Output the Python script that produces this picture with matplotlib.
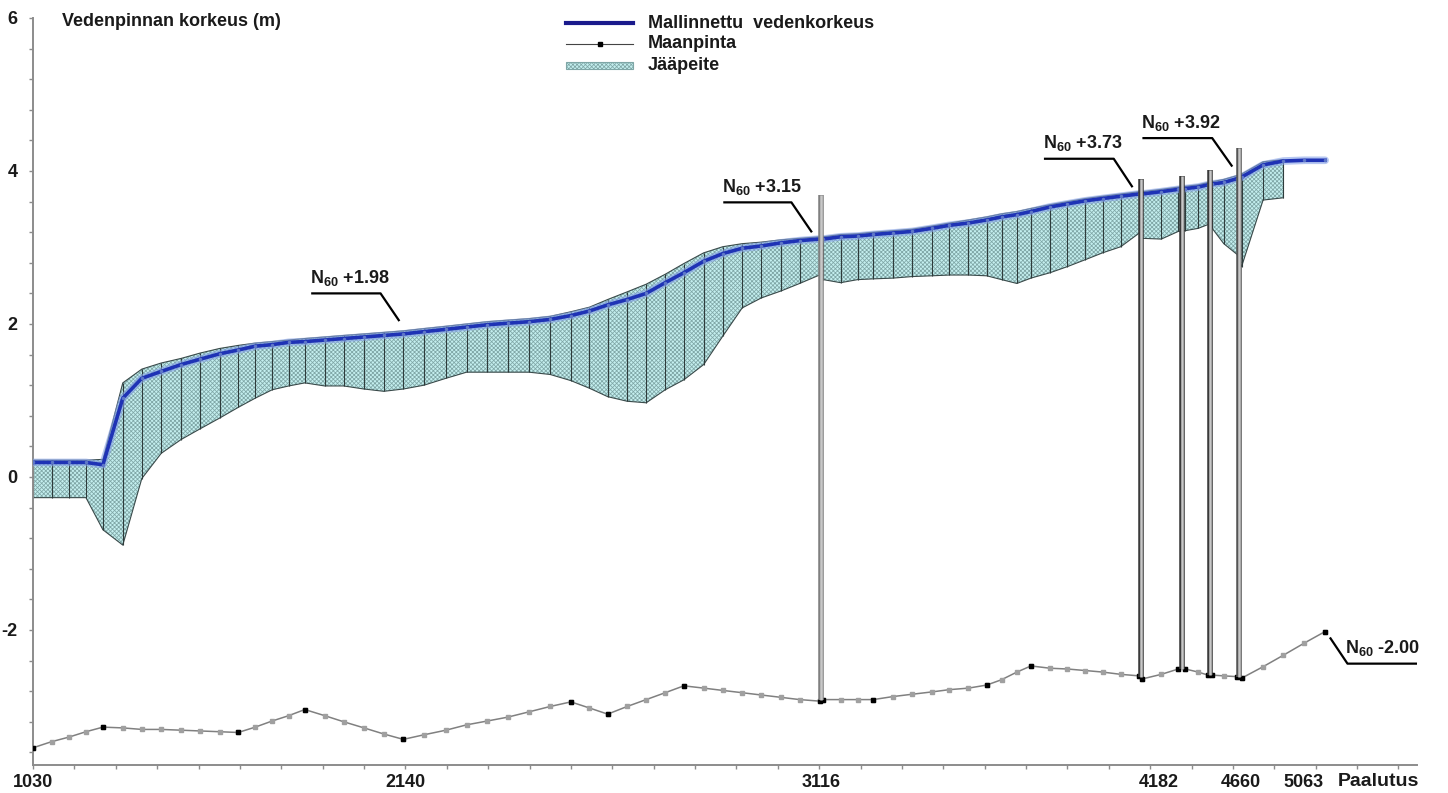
import numpy as np
import matplotlib
matplotlib.use("Agg")
import matplotlib.pyplot as plt
from matplotlib.lines import Line2D
from matplotlib.patches import Rectangle
from matplotlib.ticker import MultipleLocator, FixedLocator

plt.rcParams['font.family'] = ['Liberation Sans', 'DejaVu Sans']
plt.rcParams['font.weight'] = 'bold'
plt.rcParams['mathtext.fontset'] = 'custom'
plt.rcParams['mathtext.rm'] = 'Liberation Sans:bold'
plt.rcParams['mathtext.bf'] = 'Liberation Sans:bold'
plt.rcParams['axes.unicode_minus'] = False
plt.rcParams['hatch.linewidth'] = 0.55

# poikkileikkausten sijainnit (akselin jakoväleinä, 0 = paalu 1030)
x = np.array([0.00, 0.45, 0.87, 1.28, 1.69, 2.17, 2.63, 3.10, 3.58, 4.04,
              4.51, 4.96, 5.37, 5.78, 6.18, 6.57, 7.05, 7.51, 8.00, 8.48,
              8.95, 9.45, 9.98, 10.48, 10.98, 11.47, 11.99, 12.50, 13.00, 13.45,
              13.89, 14.36, 14.82, 15.28, 15.73, 16.21, 16.67, 17.14, 17.60, 18.07,
              18.53, 19.01, 19.10, 19.52, 19.93, 20.31, 20.79, 21.25, 21.72, 22.15,
              22.61, 23.05, 23.41, 23.78, 24.12, 24.58, 25.00, 25.43, 25.85, 26.29,
              26.74, 26.81, 27.27, 27.68, 27.85, 28.16, 28.40, 28.50, 28.78, 29.10,
              29.21, 29.73, 30.22, 30.73, 31.23])

# maanpinta (m)
ground = np.array([-3.54, -3.46, -3.40, -3.33, -3.27, -3.28, -3.30, -3.30, -3.31, -3.32,
                   -3.33, -3.34, -3.27, -3.19, -3.12, -3.04, -3.12, -3.20, -3.28, -3.36,
                   -3.43, -3.37, -3.31, -3.24, -3.19, -3.14, -3.07, -3.00, -2.94, -3.02,
                   -3.10, -3.00, -2.91, -2.82, -2.73, -2.76, -2.79, -2.82, -2.85, -2.88,
                   -2.91, -2.93, -2.91, -2.91, -2.91, -2.91, -2.87, -2.84, -2.81, -2.78,
                   -2.76, -2.72, -2.65, -2.55, -2.47, -2.50, -2.51, -2.53, -2.55, -2.58,
                   -2.60, -2.64, -2.58, -2.51, -2.51, -2.55, -2.59, -2.59, -2.60, -2.61,
                   -2.63, -2.48, -2.33, -2.17, -2.02])
measured = [0, 4, 11, 15, 20, 28, 30, 34, 41, 42, 45, 51, 54, 60, 61, 63, 64, 66, 67, 69, 70, 74]

# mallinnettu vedenkorkeus (m)
water = np.array([0.19, 0.19, 0.19, 0.19, 0.16, 1.03, 1.29, 1.38, 1.47, 1.54,
                  1.61, 1.66, 1.71, 1.73, 1.76, 1.77, 1.79, 1.81, 1.83, 1.85,
                  1.87, 1.90, 1.93, 1.96, 1.99, 2.01, 2.03, 2.06, 2.11, 2.17,
                  2.25, 2.32, 2.40, 2.54, 2.67, 2.82, 2.92, 2.99, 3.02, 3.06,
                  3.09, 3.11, 3.11, 3.14, 3.15, 3.17, 3.19, 3.21, 3.25, 3.29,
                  3.32, 3.36, 3.40, 3.43, 3.47, 3.53, 3.57, 3.61, 3.64, 3.67,
                  3.70, 3.70, 3.73, 3.76, 3.77, 3.79, 3.82, 3.83, 3.85, 3.90,
                  3.92, 4.08, 4.13, 4.14, 4.14])

# jääpeitteen yläpinta ja alapinta (m), 73 ensimmäistä leikkausta
ice_top = np.array([0.22, 0.22, 0.22, 0.22, 0.23, 1.23, 1.41, 1.49, 1.55, 1.62,
                    1.68, 1.72, 1.75, 1.77, 1.79, 1.81, 1.83, 1.85, 1.87, 1.89,
                    1.91, 1.94, 1.97, 2.00, 2.03, 2.05, 2.07, 2.10, 2.16, 2.22,
                    2.32, 2.42, 2.52, 2.65, 2.79, 2.93, 3.01, 3.05, 3.07, 3.10,
                    3.12, 3.14, 3.14, 3.17, 3.18, 3.20, 3.22, 3.24, 3.28, 3.32,
                    3.36, 3.40, 3.44, 3.47, 3.51, 3.56, 3.60, 3.64, 3.67, 3.70,
                    3.73, 3.73, 3.76, 3.79, 3.80, 3.82, 3.85, 3.86, 3.89, 3.94,
                    3.96, 4.12, 4.15])
ice_bottom = np.array([-0.27, -0.27, -0.27, -0.27, -0.69, -0.89, -0.02, 0.31, 0.49, 0.63,
                       0.77, 0.91, 1.03, 1.14, 1.19, 1.23, 1.19, 1.19, 1.15, 1.12,
                       1.15, 1.20, 1.29, 1.37, 1.37, 1.37, 1.37, 1.34, 1.26, 1.16,
                       1.05, 0.99, 0.97, 1.14, 1.27, 1.47, 1.84, 2.21, 2.34, 2.43,
                       2.53, 2.64, 2.58, 2.54, 2.58, 2.59, 2.60, 2.62, 2.63, 2.64,
                       2.64, 2.63, 2.58, 2.53, 2.60, 2.67, 2.75, 2.84, 2.93, 3.01,
                       3.19, 3.12, 3.11, 3.21, 3.22, 3.25, 3.30, 3.25, 3.05, 2.91,
                       2.75, 3.62, 3.65])

# sillat
bridge_x = [19.05, 26.77, 27.77, 28.45, 29.15]
bridge_top = [3.69, 3.89, 3.93, 4.01, 4.30]
bridge_bottom = [-2.92, -2.62, -2.51, -2.59, -2.62]

# paalutus-tekstit
tick_pos = [0, 9.0, 19.05, 27.2, 29.2, 30.7]
tick_lab = ['1030', '2140', '3116', '4182', '4660', '5063']

# N60-merkinnät: teksti, kärki, polvi, pään x
notes = [('+1.98', (8.84, 2.05), (8.40, 2.40), 6.75),
         ('+3.15', (18.81, 3.21), (18.33, 3.59), 16.71),
         ('+3.73', (26.56, 3.80), (26.12, 4.16), 24.46),
         ('+3.92', (28.97, 4.07), (28.50, 4.43), 26.84),
         ('-2.00', (31.36, -2.11), (31.77, -2.44), 33.46)]

W, H = 1448, 793
fig = plt.figure(figsize=(W / 100, H / 100), dpi=100)
ax = fig.add_axes([33 / W, (H - 765) / H, (1417 - 33) / W, (765 - 18) / H])

FS = 13
n_ice = len(ice_top)
xi = x[:n_ice]
ice_face = '#c4efef'
ice_hatch = '#7fa6a6'
ax.fill_between(xi, ice_bottom, ice_top, facecolor=ice_face, edgecolor=ice_hatch,
                hatch='xxxxxxxx', linewidth=0, zorder=1)
ax.plot(xi, ice_top, color='#3a4a4a', lw=0.8, zorder=2)
ax.plot(xi, ice_bottom, color='#3a4a4a', lw=0.8, zorder=2)
ax.vlines(xi, ice_bottom, ice_top, color='#2e3b3b', lw=0.8, zorder=2)

# vedenkorkeus
ax.plot(x, water, color='#86a2e8', lw=5.5, alpha=0.6, solid_capstyle='round', zorder=3)
ax.plot(x, water, color='#1f33b5', lw=2.6, zorder=4)
ax.plot(x, water, ls='none', marker='o', ms=1.5, color='#5f78c8', zorder=5)

# maanpinta
ax.plot(x, ground, color='#808080', lw=1.1, zorder=3)
ax.plot(x, ground, ls='none', marker='s', ms=3, color='#a0a0a0', zorder=4)
ax.plot(x[measured], ground[measured], ls='none', marker='s', ms=3.5, color='black', zorder=5)

# sillat
for bx, bt, bb, oc in zip(bridge_x, bridge_top, bridge_bottom,
                          ['#808080', '#3a3a3a', '#3a3a3a', '#3a3a3a', '#555555']):
    ax.plot([bx, bx], [bb, bt], color=oc, lw=4, solid_capstyle='butt', zorder=6)
    ax.plot([bx, bx], [bb, bt], color='#c8c8c8', lw=1.8, solid_capstyle='butt', zorder=7)

# merkinnät
for val, tip, knee, xend in notes:
    ax.plot([tip[0], knee[0], xend], [tip[1], knee[1], knee[1]], color='black', lw=1.6, zorder=8)
    tx = min(knee[0], xend)
    ax.text(tx - 0.05, knee[1] + 0.2, r'N$_{60}$ ' + val, fontsize=FS, fontweight='bold',
            ha='left', va='center', color='#1a1a1a', zorder=8)

ax.set_xlim(0, 33.45)
ax.set_ylim(-3.765, 6)
for s in ['top', 'right']:
    ax.spines[s].set_visible(False)
for s in ['left', 'bottom']:
    ax.spines[s].set_color('#8c8c8c')
    ax.spines[s].set_linewidth(1.4)

ax.yaxis.set_major_locator(FixedLocator([-2, 0, 2, 4, 6]))
ax.yaxis.set_minor_locator(MultipleLocator(0.4))
ax.tick_params(axis='y', which='both', direction='out', length=3, width=1, color='#8c8c8c',
               labelsize=FS, pad=8)
ax.xaxis.set_major_locator(MultipleLocator(1))
ax.xaxis.set_major_formatter(plt.NullFormatter())
ax.tick_params(axis='x', which='major', direction='out', length=3, width=1, color='#8c8c8c')
for lab in ax.get_yticklabels():
    lab.set_fontweight('bold')
    lab.set_color('#1a1a1a')

# paalutusluvut x-akselin alle
xtr = ax.get_xaxis_transform()
for p, lab in zip(tick_pos, tick_lab):
    ax.text(p, -0.023, lab, transform=xtr, fontsize=FS, fontweight='bold',
            ha='center', va='center', color='#1a1a1a', clip_on=False)


def fx(px):
    return px / W


def fy(py):
    return 1 - py / H


fig.text(fx(62), fy(22), 'Vedenpinnan korkeus (m)', fontsize=FS, fontweight='bold',
         va='center', ha='left', color='#1a1a1a')
fig.text(fx(1338), fy(782), 'Paalutus', fontsize=14, fontweight='bold',
         va='center', ha='left', color='#1a1a1a')

# selite
fig.add_artist(Line2D([fx(566), fx(633)], [fy(23), fy(23)], color='#1a1a8c', lw=3))
fig.add_artist(Line2D([fx(566), fx(633)], [fy(44), fy(44)], color='#444444', lw=0.8))
fig.add_artist(Line2D([fx(600)], [fy(44)], marker='s', ms=3.5, color='black', ls='none'))
fig.add_artist(Rectangle((fx(566), fy(69)), fx(633) - fx(566), fy(62) - fy(69),
                         facecolor=ice_face, edgecolor=ice_hatch, hatch='xxxxxxxx', lw=0.8))
for py, lab in [(23, 'Mallinnettu  vedenkorkeus'), (44, 'Maanpinta'), (66, 'Jääpeite')]:
    fig.text(fx(648), fy(py), lab, fontsize=FS, fontweight='bold', va='center', ha='left',
             color='#1a1a1a')

fig.savefig('out.png', dpi=100)
